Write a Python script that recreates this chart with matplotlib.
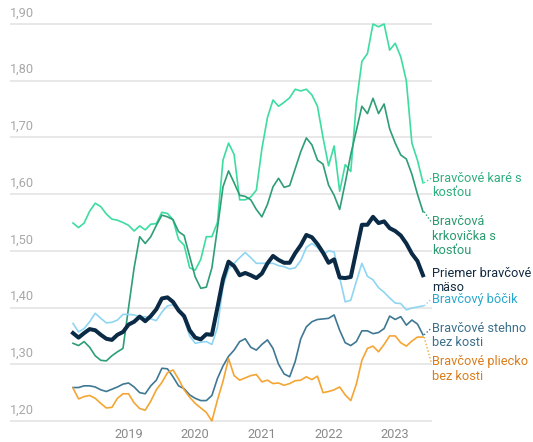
import numpy as np
import matplotlib
matplotlib.use("Agg")
import matplotlib.pyplot as plt
import matplotlib.transforms as mtransforms

plt.rcParams['font.family'] = ['Roboto', 'DejaVu Sans']

# Monthly data, Mar 2018 .. Jun 2023 (64 months)
months = np.arange(64)  # 0 = March 2018

kare = [1.549, 1.541, 1.549, 1.570, 1.584, 1.578, 1.565, 1.556, 1.554, 1.550,
        1.545, 1.535, 1.544, 1.537, 1.547, 1.548, 1.568, 1.566, 1.555, 1.520,
        1.510, 1.470, 1.466, 1.485, 1.525, 1.525, 1.550, 1.660, 1.690, 1.670,
        1.590, 1.590, 1.595, 1.607, 1.680, 1.735, 1.766, 1.755, 1.762, 1.770,
        1.785, 1.782, 1.785, 1.775, 1.755, 1.700, 1.650, 1.685, 1.605, 1.652,
        1.640, 1.760, 1.834, 1.848, 1.900, 1.895, 1.900, 1.854, 1.866, 1.842,
        1.800, 1.690, 1.660, 1.620]

krkovicka = [1.337, 1.333, 1.340, 1.330, 1.315, 1.307, 1.306, 1.315, 1.322, 1.328,
             1.400, 1.470, 1.525, 1.513, 1.525, 1.545, 1.563, 1.560, 1.555, 1.534,
             1.527, 1.490, 1.454, 1.434, 1.436, 1.470, 1.540, 1.613, 1.641, 1.620,
             1.598, 1.596, 1.590, 1.573, 1.560, 1.582, 1.613, 1.628, 1.612, 1.615,
             1.645, 1.675, 1.699, 1.687, 1.660, 1.653, 1.616, 1.598, 1.573, 1.620,
             1.670, 1.712, 1.755, 1.742, 1.769, 1.742, 1.759, 1.715, 1.690, 1.669,
             1.662, 1.635, 1.600, 1.569]

priemer = [1.355, 1.347, 1.355, 1.362, 1.360, 1.352, 1.345, 1.343, 1.352, 1.357,
           1.370, 1.375, 1.384, 1.376, 1.385, 1.397, 1.416, 1.418, 1.410, 1.395,
           1.385, 1.360, 1.347, 1.344, 1.353, 1.352, 1.400, 1.450, 1.481, 1.473,
           1.457, 1.461, 1.457, 1.452, 1.460, 1.478, 1.491, 1.484, 1.479, 1.479,
           1.496, 1.510, 1.528, 1.524, 1.512, 1.497, 1.479, 1.485, 1.453, 1.452,
           1.454, 1.500, 1.546, 1.546, 1.560, 1.549, 1.552, 1.540, 1.535, 1.527,
           1.513, 1.495, 1.482, 1.457]

bocik = [1.372, 1.357, 1.363, 1.375, 1.390, 1.381, 1.373, 1.374, 1.378, 1.388,
         1.388, 1.387, 1.384, 1.384, 1.380, 1.377, 1.392, 1.403, 1.405, 1.396,
         1.380, 1.350, 1.337, 1.339, 1.340, 1.335, 1.365, 1.437, 1.468, 1.478,
         1.488, 1.497, 1.488, 1.478, 1.478, 1.478, 1.478, 1.474, 1.472, 1.468,
         1.470, 1.483, 1.506, 1.513, 1.506, 1.493, 1.500, 1.498, 1.453, 1.410,
         1.413, 1.446, 1.478, 1.455, 1.449, 1.435, 1.427, 1.417, 1.408, 1.407,
         1.396, 1.399, 1.401, 1.403]

stehno = [1.259, 1.259, 1.262, 1.262, 1.260, 1.255, 1.252, 1.256, 1.260, 1.265,
          1.267, 1.260, 1.250, 1.248, 1.262, 1.272, 1.293, 1.292, 1.278, 1.262,
          1.257, 1.246, 1.240, 1.236, 1.236, 1.245, 1.275, 1.297, 1.314, 1.325,
          1.340, 1.345, 1.330, 1.325, 1.335, 1.343, 1.328, 1.300, 1.283, 1.278,
          1.305, 1.345, 1.366, 1.375, 1.379, 1.380, 1.381, 1.387, 1.360, 1.338,
          1.333, 1.340, 1.359, 1.359, 1.354, 1.356, 1.363, 1.385, 1.379, 1.384,
          1.369, 1.378, 1.371, 1.352]

pliecko = [1.258, 1.239, 1.243, 1.245, 1.240, 1.231, 1.223, 1.224, 1.240, 1.248,
           1.248, 1.232, 1.222, 1.219, 1.235, 1.255, 1.268, 1.285, 1.290, 1.274,
           1.255, 1.242, 1.231, 1.223, 1.215, 1.200, 1.237, 1.270, 1.310, 1.280,
           1.272, 1.276, 1.280, 1.282, 1.269, 1.272, 1.266, 1.267, 1.263, 1.266,
           1.271, 1.272, 1.278, 1.273, 1.279, 1.250, 1.252, 1.255, 1.260, 1.246,
           1.236, 1.265, 1.307, 1.328, 1.332, 1.322, 1.335, 1.350, 1.350, 1.338,
           1.332, 1.341, 1.348, 1.348]

year_ticks = [10, 22, 34, 46, 58]
year_labels = ["2019", "2020", "2021", "2022", "2023"]
y_ticks = [1.20, 1.30, 1.40, 1.50, 1.60, 1.70, 1.80, 1.90]
y_tick_labels = ["1,20", "1,30", "1,40", "1,50", "1,60", "1,70", "1,80", "1,90"]

series_names = [
    ["Bravčové karé s", "kosťou"],
    ["Bravčová", "krkovička s", "kosťou"],
    ["Bravčový bôčik"],
    ["Bravčové stehno", "bez kosti"],
    ["Bravčové pliecko", "bez kosti"],
    ["Priemer bravčové", "mäso"],
]
series_values = [kare, krkovicka, bocik, stehno, pliecko, priemer]

# styles
line_colors = ["#3ddca0", "#2e9e76", "#8fd5f2", "#3f7893", "#f5a533", "#0b2a45"]
text_colors = ["#2fae7e", "#2a9a70", "#2aa7cf", "#3b6f8b", "#d97d1c", "#142a40"]
line_widths = [1.2, 1.2, 1.2, 1.2, 1.2, 2.9]
label_y = [1.6279, 1.5513, 1.4145, 1.3633, 1.3044, 1.4603]
line_step = 0.0255
leader = [True, True, True, True, True, False]

W, H = 533, 442
fig = plt.figure(figsize=(W / 100, H / 100), dpi=100)
ymin, ymax = 1.185, 1.915
ppu = 567.0
bottom_px = 421 + (1.20 - ymin) * ppu
top_px = 24 - (ymax - 1.90) * ppu
ax = fig.add_axes([10 / W, (H - bottom_px) / H, 422 / W, (bottom_px - top_px) / H])
ax.set_ylim(ymin, ymax)
ax.set_xlim(-11.34, 64.62)

for s in ax.spines.values():
    s.set_visible(False)
ax.set_yticks([])
ax.set_xticks([])

# year labels along the bottom
xt = mtransforms.blended_transform_factory(ax.transData, fig.transFigure)
for xv, lab in zip(year_ticks, year_labels):
    ax.text(xv, (H - 438.5) / H, lab, transform=xt, ha='center', va='baseline',
            fontsize=9.2, color="#8a8a8a", clip_on=False)

for yv, lab in zip(y_ticks, y_tick_labels):
    ax.axhline(yv, color="#e6e6e6", lw=1.3, zorder=0)
    ax.text(0.0, yv + 0.008, lab, transform=ax.get_yaxis_transform(),
            ha='left', va='bottom', fontsize=9.2, color="#a8a8a8")

for vals, c, lw in zip(series_values, line_colors, line_widths):
    ax.plot(months, vals, color=c, lw=lw, solid_joinstyle='round',
            clip_on=False, zorder=3 if lw > 2 else 2)

xl = 64.65
for names, vals, tc, lc, ly, ld in zip(series_names, series_values, text_colors,
                                       line_colors, label_y, leader):
    for k, nm in enumerate(names):
        ax.text(xl, ly - k * line_step, nm, ha='left', va='center',
                fontsize=9.2, color=tc, clip_on=False)
    if ld:
        ax.plot([months[-1] + 0.2, xl - 0.2], [vals[-1], ly], ls=(0, (1, 1.5)),
                lw=1.0, color=lc, clip_on=False)

fig.savefig("out.png", dpi=100)
